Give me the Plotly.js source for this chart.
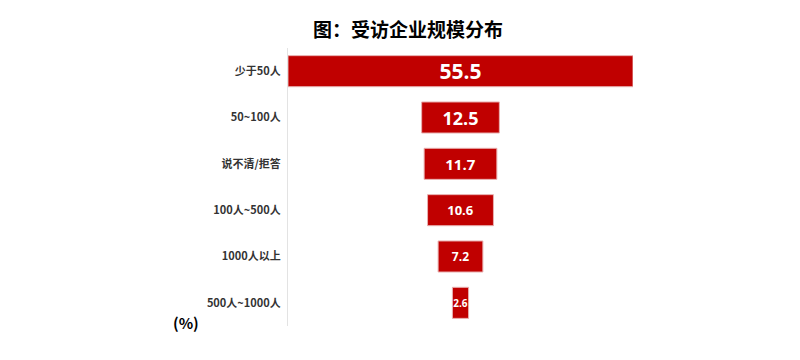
<!DOCTYPE html>
<html><head><meta charset="utf-8">
<script src="https://cdn.plot.ly/plotly-3.0.1.min.js"></script>
<style>body{margin:0;background:#fff}#c{width:800px;height:360px}</style>
</head><body><div id="c"></div>
<script>
const categories = ["少于50人", "50~100人", "说不清/拒答", "100人~500人", "1000人以上", "500人~1000人"];
const values = [55.5, 12.5, 11.7, 10.6, 7.2, 2.6];
const labelSizes = [21, 18, 15, 13, 12, 10];

const trace = {
  type: 'funnel',
  y: categories,
  x: values,
  orientation: 'h',
  textinfo: 'value',
  textposition: 'inside',
  insidetextanchor: 'middle',
  constraintext: 'none',
  textfont: {family: 'Open Sans, Noto Sans CJK SC, sans-serif', color: '#ffffff', size: labelSizes, weight: 'bold'},
  marker: {color: '#C00000', line: {color: '#e8b0b0', width: 1}},
  connector: {visible: false},
  hoverinfo: 'none'
};

const layout = {
  width: 800, height: 360,
  margin: {l: 288, r: 167, t: 48, b: 34},
  paper_bgcolor: '#ffffff', plot_bgcolor: '#ffffff',
  title: {text: '图：受访企业规模分布', x: 0.51, xanchor: 'center', y: 0.915, yanchor: 'middle',
          font: {family: 'Noto Sans CJK SC, sans-serif', size: 19, color: '#000000', weight: 'bold'}},
  showlegend: false,
  funnelgap: 0.33,
  xaxis: {visible: false, range: [-27.75, 27.75], fixedrange: true},
  yaxis: {showline: true, linecolor: '#e3e3e3', linewidth: 1, showgrid: false, ticks: '', ticklabelstandoff: 4,
          tickfont: {family: 'Noto Sans CJK SC, sans-serif', size: 11, color: '#333333', weight: 'bold'}},
  annotations: [{text: '(%)', xref: 'paper', yref: 'paper', x: -0.34, y: 0.014, xanchor: 'left', yanchor: 'middle',
                 showarrow: false, font: {family: 'Noto Sans CJK SC, sans-serif', size: 15, color: '#000000', weight: 'bold'}}]
};

Plotly.newPlot('c', [trace], layout, {displayModeBar: false, staticPlot: true});
</script>
</body></html>
